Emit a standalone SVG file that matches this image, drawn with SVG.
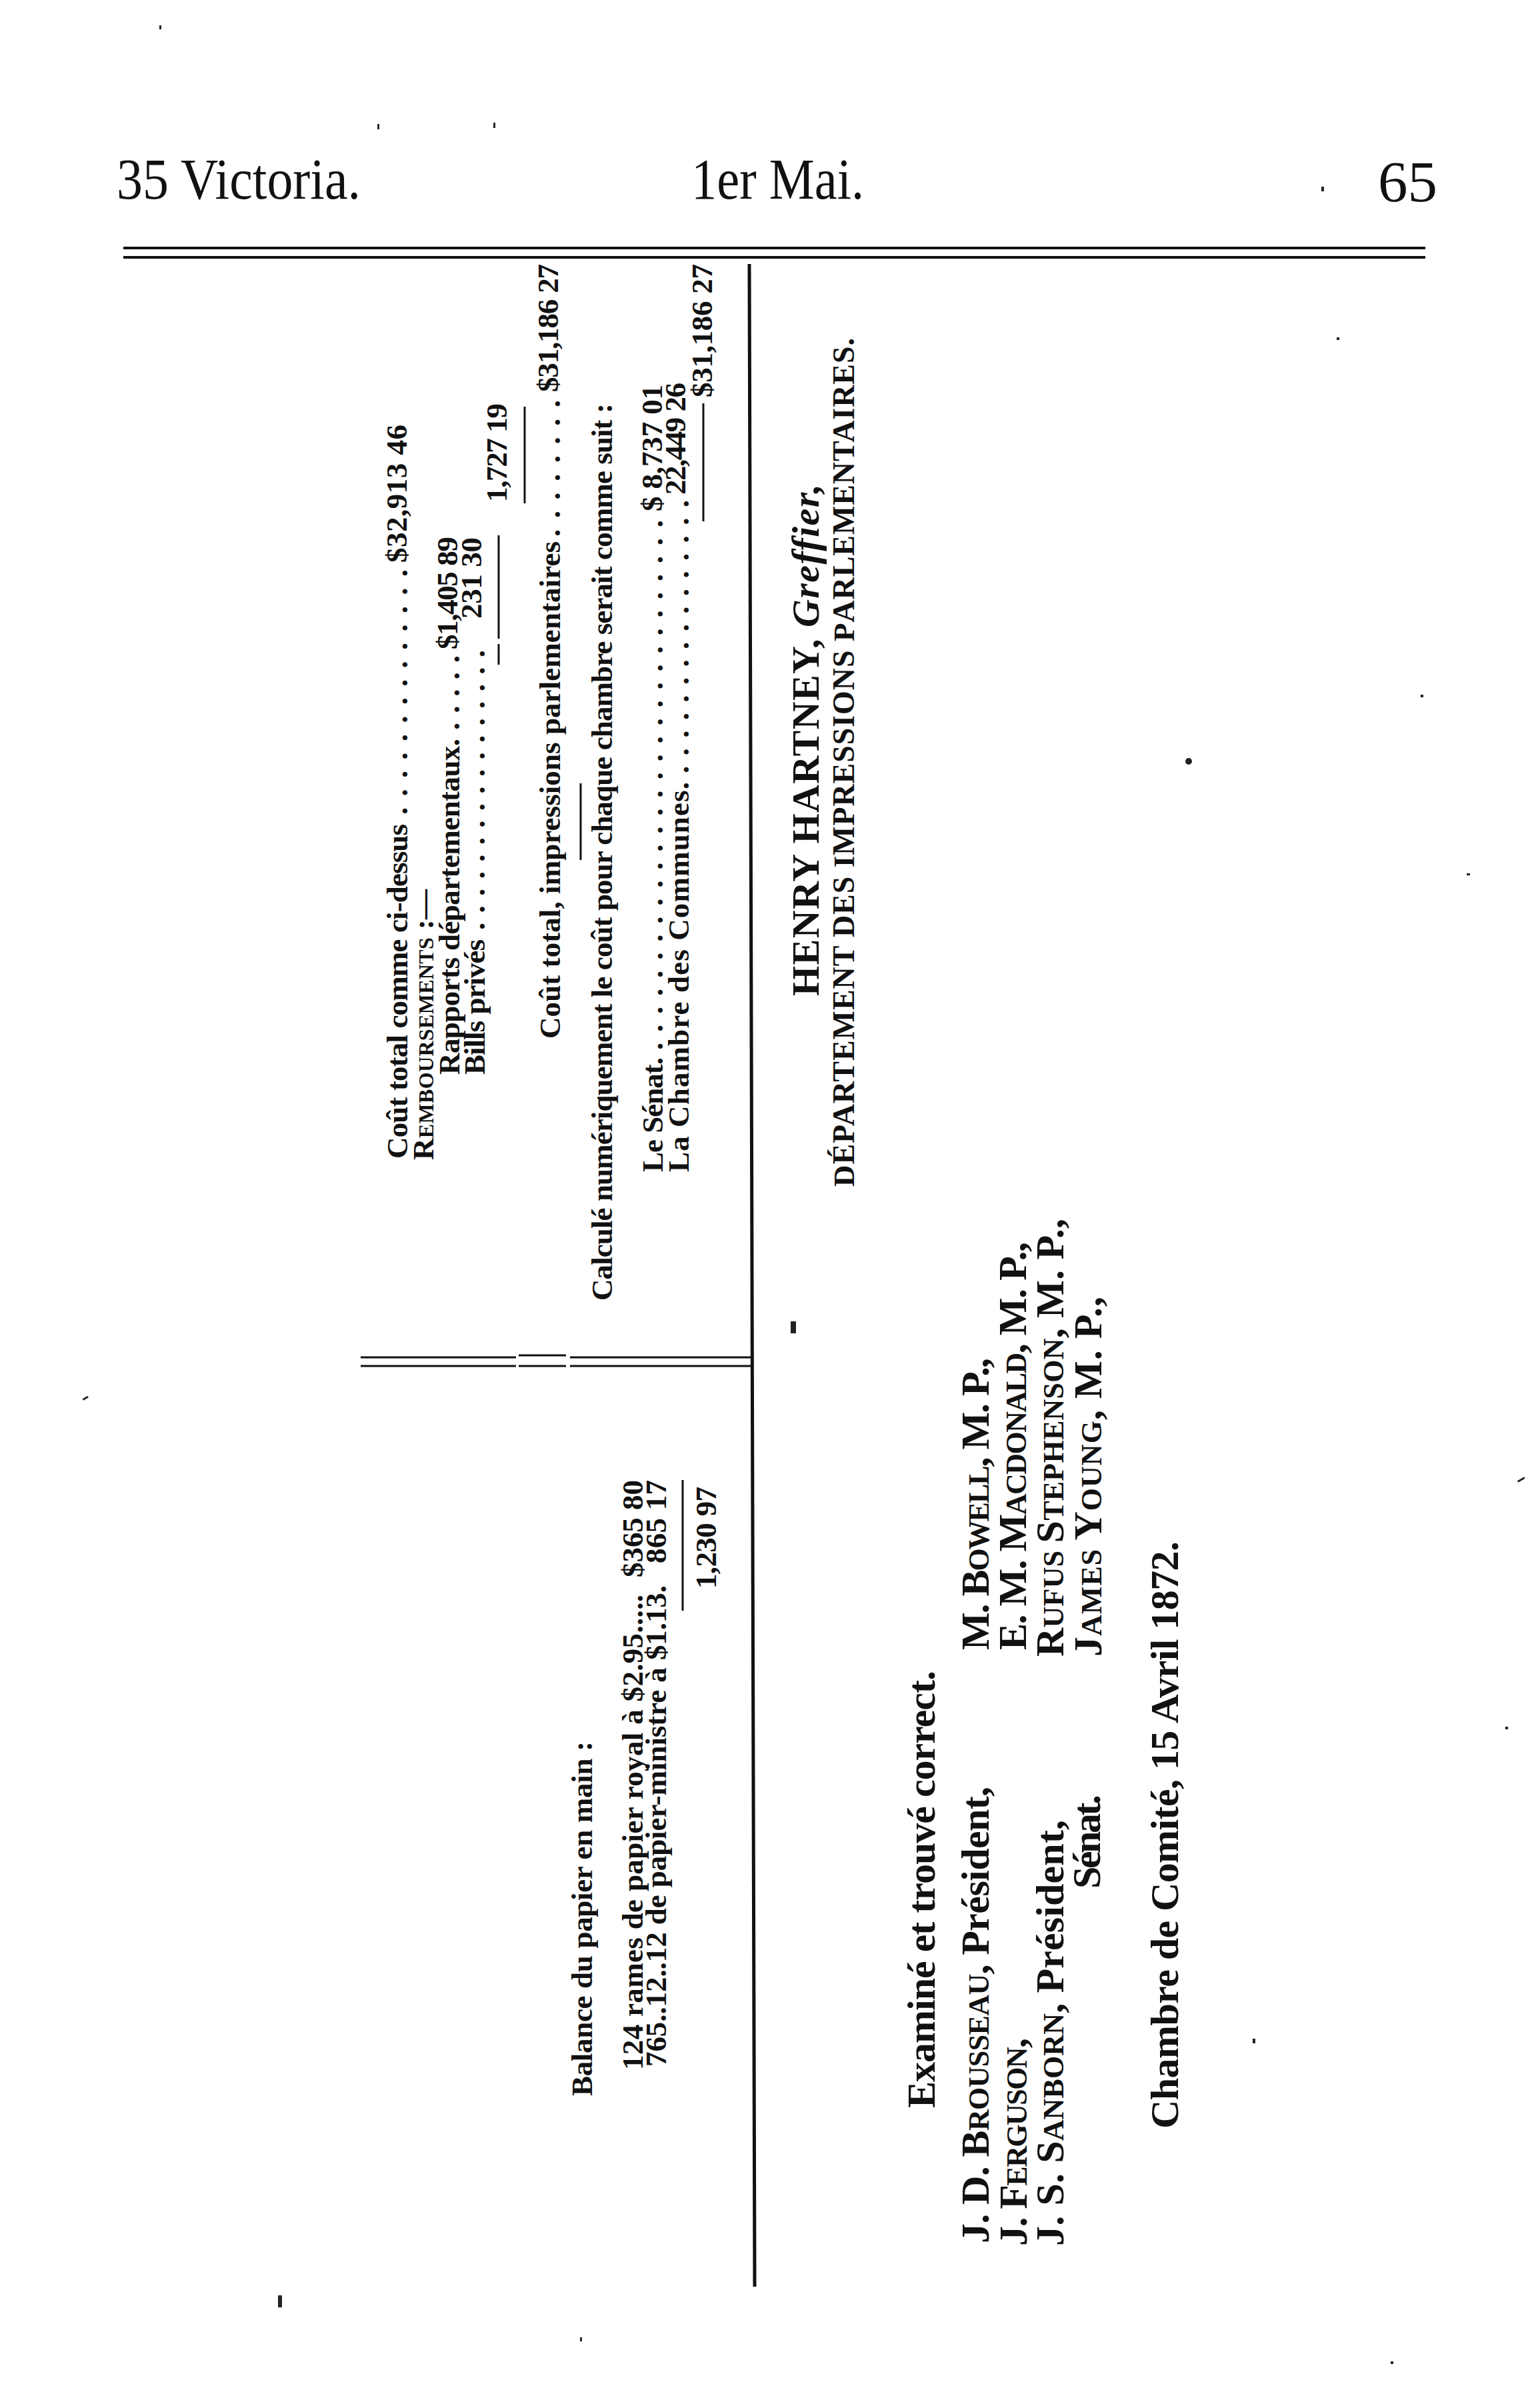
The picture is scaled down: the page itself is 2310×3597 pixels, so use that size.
<svg xmlns="http://www.w3.org/2000/svg" width="2310" height="3597" viewBox="0 0 2310 3597">
<style>
  .hd{font-family:"Liberation Serif","DejaVu Serif",serif;font-size:86px;fill:#111}
  .t{font-family:"Liberation Serif","DejaVu Serif",serif;font-weight:bold;font-size:45px;fill:#111}
  .n{text-anchor:end}
  .sig{font-size:58px}
  .nm{font-size:60px}
  .sc{font-size:44px}
  .sc2{font-size:32px}
  .scd{font-size:46px}
  .rule{stroke:#111;stroke-width:4;fill:none}
  .thin{stroke:#111;stroke-width:3;fill:none}
  .speck{fill:#222}
</style>
<rect width="2310" height="3597" fill="#fff"/>

<g id="header">
  <text class="hd" x="175" y="298" textLength="366" lengthAdjust="spacingAndGlyphs">35 Victoria.</text>
  <text class="hd" x="1037" y="298" textLength="259" lengthAdjust="spacingAndGlyphs">1er Mai.</text>
  <text class="hd" x="2067" y="302" textLength="89" lengthAdjust="spacingAndGlyphs">65</text>
  <line class="rule" x1="185" y1="372" x2="2138" y2="372"/>
  <line class="rule" x1="185" y1="386" x2="2138" y2="386"/>
</g>

<g id="rules">
  <line x1="1124" y1="396" x2="1132" y2="3430" stroke="#111" stroke-width="5"/>
  <line class="thin" x1="541" y1="2036" x2="774" y2="2036"/>
  <line class="thin" x1="778" y1="2033" x2="849" y2="2033"/>
  <line class="thin" x1="855" y1="2036" x2="1126" y2="2036"/>
  <line class="thin" x1="541" y1="2049" x2="774" y2="2049"/>
  <line class="thin" x1="778" y1="2049" x2="849" y2="2049"/>
  <line class="thin" x1="855" y1="2049" x2="1126" y2="2049"/>
  <line class="thin" x1="748" y1="997" x2="748" y2="966"/>
  <line class="thin" x1="748" y1="958" x2="748" y2="803"/>
  <line class="thin" x1="787" y1="755" x2="787" y2="610"/>
  <line class="thin" x1="871" y1="1290" x2="871" y2="1175"/>
  <line class="thin" x1="1055" y1="782" x2="1055" y2="605"/>
  <line class="thin" x1="1024" y1="2416" x2="1024" y2="2220"/>
</g>

<g id="cost-table" transform="rotate(-90)">
  <text class="t" x="-1738" y="611" textLength="502">Coût total comme ci-dessus</text>
  <text class="t" x="-1222" y="611" textLength="368">..............</text>
  <text class="t n" x="-637" y="610" textLength="207">$32,913 46</text>

  <text class="t" x="-1740" y="650" textLength="406">R<tspan class="sc2">EMBOURSEMENTS</tspan> :—</text>

  <text class="t" x="-1612" y="689" textLength="504">Rapports départementaux.</text>
  <text class="t" x="-1095" y="689" textLength="112">.....</text>
  <text class="t n" x="-805" y="686" textLength="169">$1,405 89</text>

  <text class="t" x="-1612" y="727" textLength="203">Bills privés</text>
  <text class="t" x="-1395" y="727" textLength="420">.................</text>
  <text class="t n" x="-806" y="722" textLength="122">231 30</text>

  <text class="t n" x="-605" y="760" textLength="148">1,727 19</text>

  <text class="t" x="-1558" y="840" textLength="746">Coût total, impressions parlementaires</text>
  <text class="t" x="-805" y="840" textLength="205">........</text>
  <text class="t n" x="-396" y="837" textLength="192">$31,186 27</text>

  <text class="t" x="-1951" y="918" textLength="1346">Calculé numériquement le coût pour chaque chambre serait comme suit :</text>

  <text class="t" x="-1758" y="994" textLength="172">Le Sénat.</text>
  <text class="t" x="-1575" y="994" textLength="795">..............................</text>
  <text class="t n" x="-577" y="993" textLength="190">$ 8,737 01</text>

  <text class="t" x="-1758" y="1033" textLength="585">La Chambre des Communes.</text>
  <text class="t" x="-1160" y="1033" textLength="410">................</text>
  <text class="t n" x="-574" y="1028" textLength="168">22,449 26</text>

  <text class="t n" x="-396" y="1068" textLength="200">$31,186 27</text>
</g>

<g id="paper-table" transform="rotate(-90)">
  <text class="t" x="-3144" y="888" textLength="532">Balance du papier en main :</text>
  <text class="t" x="-3105" y="964" textLength="713">124 rames de papier royal à $2.95.....</text>
  <text class="t" x="-3100" y="999" textLength="722">765..12..12 de papier-ministre à $1.13.</text>
  <text class="t n" x="-2220" y="964" textLength="146">$365 80</text>
  <text class="t n" x="-2220" y="999" textLength="125">865 17</text>
  <text class="t n" x="-2230" y="1074" textLength="153">1,230 97</text>
</g>

<g id="signature" transform="rotate(-90)">
  <text class="t sig" x="-1494" y="1228" textLength="768">HENRY HARTNEY, <tspan font-style="italic">Greffier,</tspan></text>
  <text class="t" font-size="60" x="-1780" y="1281" textLength="1273">D<tspan class="scd">ÉPARTEMENT DES </tspan>I<tspan class="scd">MPRESSIONS </tspan>P<tspan class="scd">ARLEMENTAIRES.</tspan></text>
</g>

<g id="committee" transform="rotate(-90)">
  <text class="t nm" x="-3162" y="1402" textLength="656">Examiné et trouvé correct.</text>
  <text class="t nm" x="-3365" y="1483" textLength="685">J. D. B<tspan class="sc">ROUSSEAU</tspan>, Président,</text>
  <text class="t nm" x="-3369" y="1540" textLength="312">J. F<tspan class="sc">ERGUSON</tspan>,</text>
  <text class="t nm" x="-3369" y="1595" textLength="639">J. S. S<tspan class="sc">ANBORN</tspan>, Président,</text>
  <text class="t nm" x="-2833" y="1650" textLength="141">Sénat.</text>
  <text class="t nm" x="-2475" y="1483" textLength="438">M. B<tspan class="sc">OWELL</tspan>, M. P.,</text>
  <text class="t nm" x="-2475" y="1539" textLength="612">E. M. M<tspan class="sc">ACDONALD</tspan>, M. P.,</text>
  <text class="t nm" x="-2485" y="1595" textLength="657">R<tspan class="sc">UFUS </tspan>S<tspan class="sc">TEPHENSON</tspan>, M. P.,</text>
  <text class="t nm" x="-2485" y="1652" textLength="540">J<tspan class="sc">AMES </tspan>Y<tspan class="sc">OUNG</tspan>, M. P.,</text>
  <text class="t nm" font-size="62" x="-3193" y="1767" textLength="881">Chambre de Comité, 15 Avril 1872.</text>
</g>

<g id="specks">
  <rect class="speck" x="1186" y="1982" width="8" height="18"/>
  <rect class="speck" x="417" y="3443" width="6" height="18"/>
  <circle class="speck" cx="1783" cy="1142" r="5"/>
  <rect class="speck" x="1982" y="280" width="4" height="7"/>
  <rect class="speck" x="566" y="186" width="3" height="8"/>
  <rect class="speck" x="740" y="184" width="3" height="8"/>
  <rect class="speck" x="239" y="38" width="3" height="6"/>
  <rect class="speck" x="124" y="2096" width="9" height="3" transform="rotate(-30 128 2098)"/>
  <rect class="speck" x="2276" y="2218" width="12" height="3" transform="rotate(-30 2282 2220)"/>
  <rect class="speck" x="2005" y="506" width="4" height="4"/>
  <rect class="speck" x="2131" y="1042" width="4" height="4"/>
  <rect class="speck" x="2200" y="1310" width="5" height="3"/>
  <rect class="speck" x="2258" y="2590" width="4" height="4"/>
  <rect class="speck" x="1879" y="3058" width="4" height="7"/>
  <rect class="speck" x="870" y="3506" width="3" height="6"/>
  <rect class="speck" x="2086" y="3542" width="4" height="4"/>
</g>
</svg>
